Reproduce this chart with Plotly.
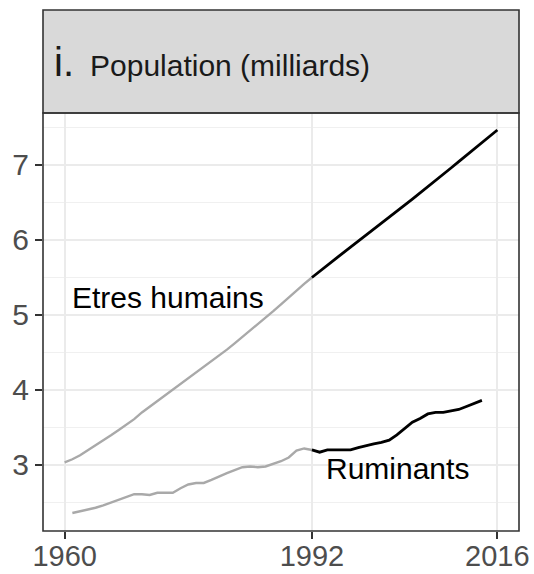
import plotly.graph_objects as go

# ---- data ----
years_h = list(range(1960, 2017))
humains = [3.035, 3.076, 3.129, 3.193, 3.259, 3.326, 3.395, 3.465, 3.537, 3.611,
           3.700, 3.775, 3.851, 3.926, 4.000, 4.079, 4.153, 4.227, 4.303, 4.380,
           4.458, 4.537, 4.620, 4.704, 4.788, 4.873, 4.961, 5.050, 5.140, 5.233,
           5.327, 5.414, 5.498, 5.582, 5.664, 5.744, 5.824, 5.903, 5.981, 6.058,
           6.143, 6.222, 6.301, 6.381, 6.461, 6.542, 6.623, 6.705, 6.788, 6.872,
           6.957, 7.041, 7.126, 7.211, 7.296, 7.380, 7.464]

years_r = list(range(1961, 2015))
ruminants = [2.36, 2.38, 2.40, 2.43, 2.46, 2.50, 2.54, 2.58, 2.61, 2.61,
             2.60, 2.63, 2.63, 2.63, 2.69, 2.74, 2.76, 2.76, 2.80, 2.85,
             2.89, 2.93, 2.97, 2.98, 2.97, 2.98, 3.01, 3.05, 3.10, 3.19,
             3.22, 3.20, 3.17, 3.20, 3.20, 3.19, 3.20, 3.23, 3.26, 3.28,
             3.30, 3.33, 3.40, 3.49, 3.57, 3.62, 3.68, 3.70, 3.70, 3.72,
             3.74, 3.78, 3.82, 3.86]

split_year = 1992
x_ticks = [1960, 1992, 2016]
y_ticks = [3, 4, 5, 6, 7]
y_minor = [2.5, 3.5, 4.5, 5.5, 6.5, 7.5]
label_h = "Etres humains"
label_r = "Ruminants"
strip_title = "Population (milliards)"
strip_prefix = "i."

FONT = "Liberation Sans, Arial, sans-serif"
GRAY = "#a9a9a9"


def split(xs, ys, cut):
    before = [(x, y) for x, y in zip(xs, ys) if x <= cut]
    after = [(x, y) for x, y in zip(xs, ys) if x >= cut]
    return ([p[0] for p in before], [p[1] for p in before],
            [p[0] for p in after], [p[1] for p in after])


fig = go.Figure()
for xs, ys in [(years_h, humains), (years_r, ruminants)]:
    xb, yb, xa, ya = split(xs, ys, split_year)
    fig.add_trace(go.Scatter(x=xb, y=yb, mode="lines",
                             line=dict(color=GRAY, width=2.4), showlegend=False))
    fig.add_trace(go.Scatter(x=xa, y=ya, mode="lines",
                             line=dict(color="#000000", width=2.8), showlegend=False))

W, H = 534, 574
ml, mr, mt, mb = 43, 15, 113, 43
ph = H - mt - mb
pw = W - ml - mr
strip_top = 10
strip_y1 = 1 + (mt - strip_top) / ph

fig.add_shape(type="rect", xref="paper", yref="paper", x0=0, x1=1, y0=1, y1=strip_y1,
              fillcolor="#d9d9d9", line=dict(color="#333333", width=1.6), layer="above")
fig.add_shape(type="rect", xref="paper", yref="paper", x0=0, x1=1, y0=0, y1=1,
              fillcolor="rgba(0,0,0,0)", line=dict(color="#333333", width=1.6), layer="above")

fig.add_annotation(xref="paper", yref="paper", x=(88 - ml) / pw, y=(H - mb - 66) / ph,
                   xanchor="left", yanchor="middle", showarrow=False,
                   text=strip_title, font=dict(family=FONT, size=30, color="#1a1a1a"))
fig.add_annotation(xref="paper", yref="paper", x=(52 - ml) / pw, y=(H - mb - 62) / ph,
                   xanchor="left", yanchor="middle", showarrow=False,
                   text=strip_prefix, font=dict(family=FONT, size=40, color="#1a1a1a"))

fig.add_annotation(x=1960.7, y=5.23, xanchor="left", yanchor="middle", showarrow=False,
                   text=label_h, font=dict(family=FONT, size=30, color="#000000"))
fig.add_annotation(x=1993.6, y=2.95, xanchor="left", yanchor="middle", showarrow=False,
                   text=label_r, font=dict(family=FONT, size=30, color="#000000"))

fig.update_layout(
    width=W, height=H,
    margin=dict(l=ml, r=mr, t=mt, b=mb),
    paper_bgcolor="white", plot_bgcolor="white",
    font=dict(family=FONT),
    xaxis=dict(range=[1957.2, 2018.8], tickvals=x_ticks, ticktext=[str(v) for v in x_ticks],
               showgrid=True, gridcolor="#ebebeb", gridwidth=1.8, zeroline=False,
               ticks="outside", ticklen=7, tickwidth=2, tickcolor="#333333",
               ticklabelstandoff=-8,
               tickfont=dict(family=FONT, size=29, color="#4d4d4d"),
               showline=False, automargin=False),
    yaxis=dict(range=[2.12, 7.69], tickvals=y_ticks, ticktext=[str(v) for v in y_ticks],
               showgrid=True, gridcolor="#ebebeb", gridwidth=1.8, zeroline=False,
               ticks="outside", ticklen=7, tickwidth=2, tickcolor="#333333",
               tickfont=dict(family=FONT, size=30, color="#4d4d4d"),
               minor=dict(tickvals=y_minor, showgrid=True, gridcolor="#f0f0f0",
                          gridwidth=1, ticks=""),
               showline=False, automargin=False),
)

fig.write_html("out.html", config={"displayModeBar": False},
               post_script="document.body.style.margin='0';")
